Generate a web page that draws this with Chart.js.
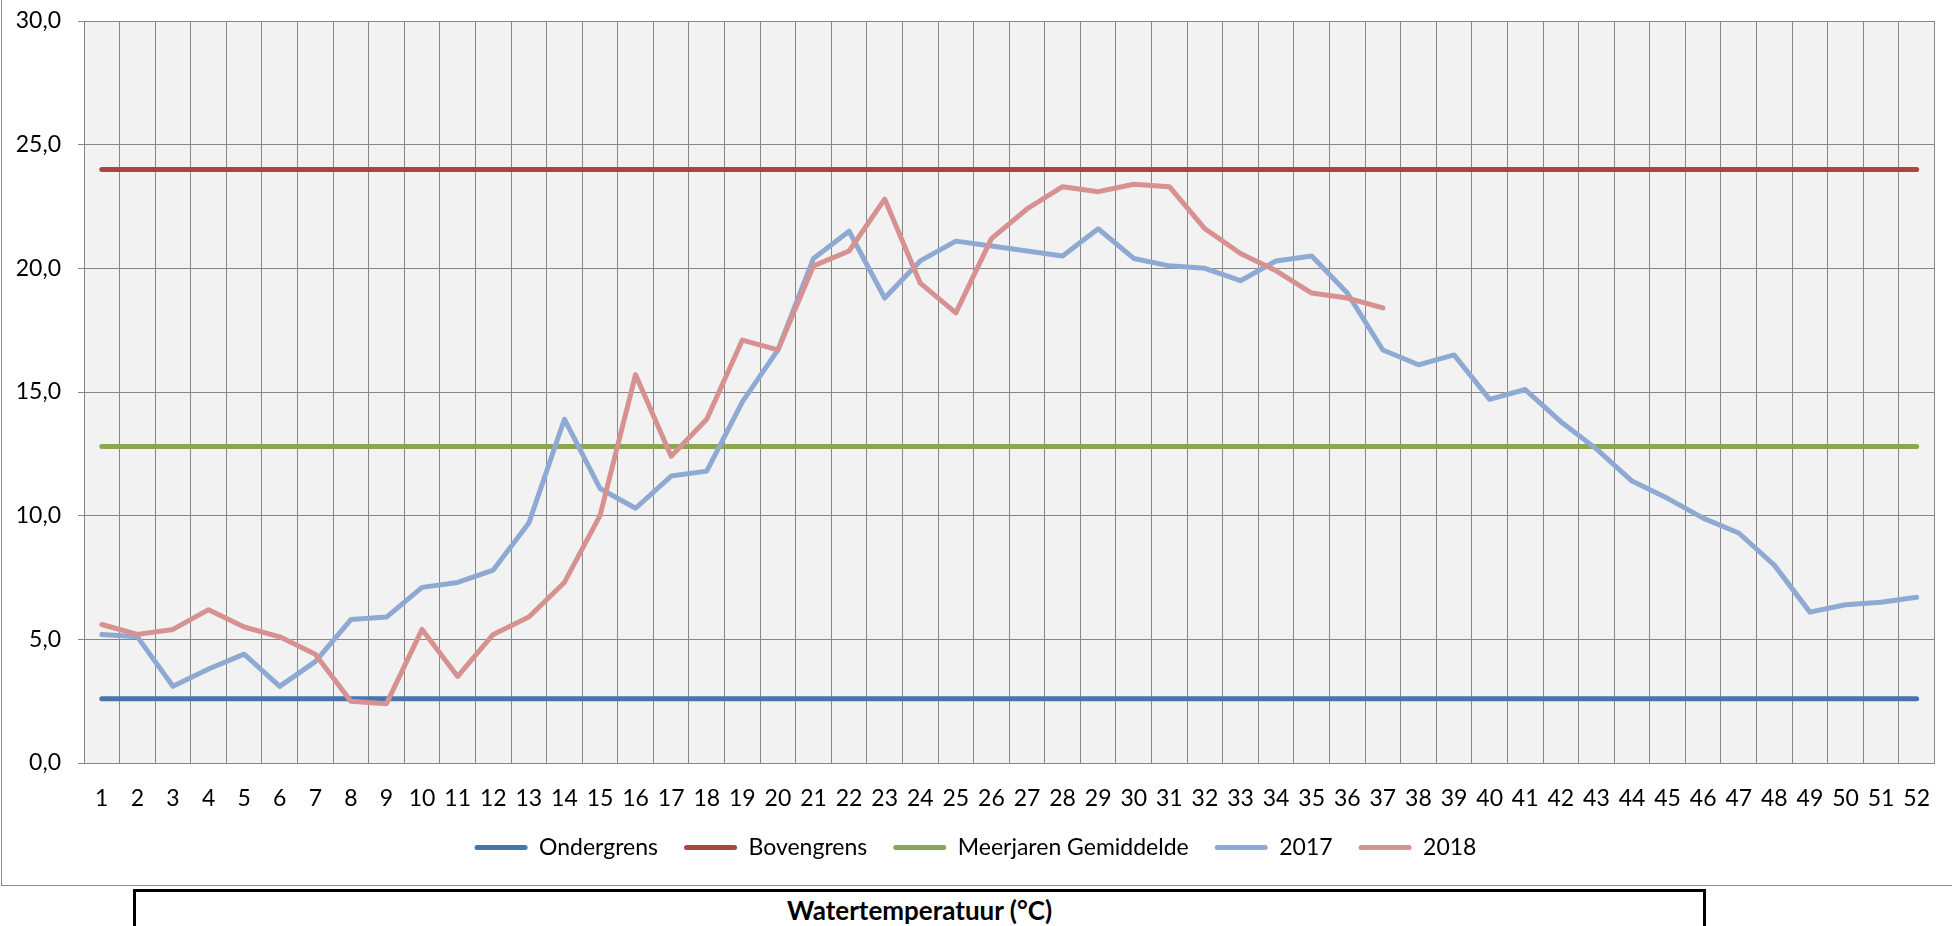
<!DOCTYPE html>
<html>
<head>
<meta charset="utf-8">
<script src="https://cdn.jsdelivr.net/npm/chart.js@4.4.1/dist/chart.umd.min.js"></script>
<style>
  html, body { margin: 0; padding: 0; background: #fff; overflow: hidden; }
  #wrap { position: relative; width: 1952px; height: 926px; }
  #frame { position: absolute; left: 1px; top: -10px; width: 2100px; height: 896px; box-sizing: border-box;
           border: 1.5px solid #8c8c8c; pointer-events: none; }
  #eenheid { position: absolute; left: 133px; top: 889px; width: 1567px; height: 60px; border: 3px solid #000;
             background: #fff; font: bold 26px Lato, sans-serif; text-align: center; line-height: 36px; color: #000; }
</style>
</head>
<body>
<div id="wrap">
  <canvas id="grafiek" width="1952" height="926"></canvas>
  <div id="frame"></div>
  <div id="eenheid">Watertemperatuur (°C)</div>
</div>
<script>
  // weeknummers
  var weken = ['1','2','3','4','5','6','7','8','9','10','11','12','13','14','15','16','17','18','19','20',
               '21','22','23','24','25','26','27','28','29','30','31','32','33','34','35','36','37','38','39','40',
               '41','42','43','44','45','46','47','48','49','50','51','52'];

  var ondergrens = [2.6,2.6,2.6,2.6,2.6,2.6,2.6,2.6,2.6,2.6,2.6,2.6,2.6,2.6,2.6,2.6,2.6,2.6,2.6,2.6,
                    2.6,2.6,2.6,2.6,2.6,2.6,2.6,2.6,2.6,2.6,2.6,2.6,2.6,2.6,2.6,2.6,2.6,2.6,2.6,2.6,
                    2.6,2.6,2.6,2.6,2.6,2.6,2.6,2.6,2.6,2.6,2.6,2.6];

  var bovengrens = [24,24,24,24,24,24,24,24,24,24,24,24,24,24,24,24,24,24,24,24,
                    24,24,24,24,24,24,24,24,24,24,24,24,24,24,24,24,24,24,24,24,
                    24,24,24,24,24,24,24,24,24,24,24,24];

  var meerjaren = [12.8,12.8,12.8,12.8,12.8,12.8,12.8,12.8,12.8,12.8,12.8,12.8,12.8,12.8,12.8,12.8,12.8,12.8,12.8,12.8,
                   12.8,12.8,12.8,12.8,12.8,12.8,12.8,12.8,12.8,12.8,12.8,12.8,12.8,12.8,12.8,12.8,12.8,12.8,12.8,12.8,
                   12.8,12.8,12.8,12.8,12.8,12.8,12.8,12.8,12.8,12.8,12.8,12.8];

  var jaar2017 = [5.2,5.1,3.1,3.8,4.4,3.1,4.1,5.8,5.9,7.1,
                  7.3,7.8,9.7,13.9,11.1,10.3,11.6,11.8,14.6,16.7,
                  20.4,21.5,18.8,20.3,21.1,20.9,20.7,20.5,21.6,20.4,
                  20.1,20.0,19.5,20.3,20.5,19.0,16.7,16.1,16.5,14.7,
                  15.1,13.8,12.7,11.4,10.7,9.9,9.3,8.0,6.1,6.4,
                  6.5,6.7];

  var jaar2018 = [5.6,5.2,5.4,6.2,5.5,5.1,4.4,2.5,2.4,5.4,
                  3.5,5.2,5.9,7.3,10.0,15.7,12.4,13.9,17.1,16.7,
                  20.1,20.7,22.8,19.4,18.2,21.2,22.4,23.3,23.1,23.4,
                  23.3,21.6,20.6,19.9,19.0,18.8,18.4];

  var yTicks = [0, 5, 10, 15, 20, 25, 30];

  var gridKleur = '#878787';
  var lettertype = 'Lato, sans-serif';

  function lijn(label, data, kleur, volgorde) {
    return {
      label: label,
      data: data,
      borderColor: kleur,
      backgroundColor: kleur,
      borderWidth: 5,
      borderCapStyle: 'round',
      borderJoinStyle: 'round',
      pointRadius: 0,
      pointHoverRadius: 0,
      tension: 0,
      fill: false,
      order: volgorde
    };
  }

  var plotAchtergrond = {
    id: 'plotAchtergrond',
    beforeDraw: function(chart) {
      var ctx = chart.ctx, a = chart.chartArea;
      ctx.save();
      ctx.fillStyle = '#f2f2f2';
      ctx.fillRect(a.left, a.top, a.right - a.left, a.bottom - a.top);
      ctx.restore();
    }
  };

  new Chart(document.getElementById('grafiek'), {
    type: 'line',
    data: {
      labels: weken,
      datasets: [
        lijn('Ondergrens', ondergrens, '#4674ae', 4),
        lijn('Bovengrens', bovengrens, '#ad4542', 3),
        lijn('Meerjaren Gemiddelde', meerjaren, '#8aa64f', 2),
        lijn('2017', jaar2017, '#8faad2', 1),
        lijn('2018', jaar2018, '#d69190', 0)
      ]
    },
    options: {
      responsive: false,
      animation: false,
      layout: { padding: { top: 21, right: 1, bottom: 57, left: 0 } },
      scales: {
        x: {
          offset: true,
          grid: { offset: true, color: gridKleur, lineWidth: 1, drawTicks: false },
          border: { display: true, color: gridKleur, width: 1 },
          ticks: { padding: 22, autoSkip: false, maxRotation: 0, color: '#000', font: { family: lettertype, size: 23 } },
          afterFit: function(s) { s.height = 47; }
        },
        y: {
          min: 0,
          max: 30,
          afterBuildTicks: function(s) { s.ticks = yTicks.map(function(v) { return { value: v }; }); },
          grid: { color: gridKleur, lineWidth: 1, drawTicks: true, tickLength: 6 },
          border: { display: true, color: gridKleur, width: 1 },
          ticks: {
            padding: 17, color: '#000', font: { family: lettertype, size: 23 },
            callback: function(v) { return v.toFixed(1).replace('.', ','); }
          },
          afterFit: function(s) { s.width = 84; s.paddingTop = 0; s.paddingBottom = 0; }
        }
      },
      plugins: {
        title: { display: false },
        tooltip: { enabled: false },
        legend: {
          position: 'bottom',
          labels: {
            color: '#000',
            font: { family: lettertype, size: 23 },
            boxWidth: 53,
            boxHeight: 5,
            padding: 26,
            useBorderRadius: true,
            borderRadius: 2.5,
            generateLabels: function(chart) {
              return chart.data.datasets.map(function(d, i) {
                return { text: d.label, fillStyle: d.borderColor, strokeStyle: d.borderColor,
                         lineWidth: 0, hidden: false, datasetIndex: i, borderRadius: 2.5 };
              });
            }
          }
        }
      }
    },
    plugins: [plotAchtergrond]
  });
</script>
</body>
</html>
